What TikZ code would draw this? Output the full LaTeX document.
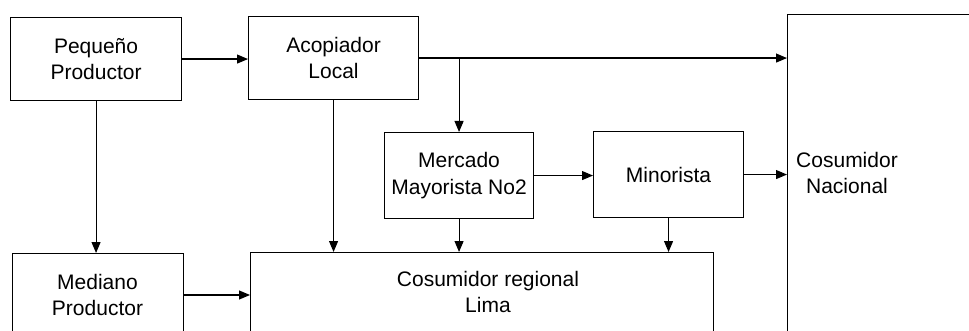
\documentclass[tikz,border=0pt]{standalone}
\usepackage{fontspec}
\setmainfont{Liberation Sans}
\usetikzlibrary{arrows.meta,calc}
\begin{document}
\begin{tikzpicture}[x=1pt,y=-1pt,
  boxnode/.style={draw=black,line width=1.1pt,rectangle,inner sep=0pt,anchor=north west},
  txt/.style={align=center,font=\fontsize{21}{26.5}\selectfont,inner sep=0pt},
  arr/.style={line width=1.1pt,-{Triangle[length=11pt,width=9pt]}}]
\useasboundingbox (0,0) rectangle (969,331);
\clip (0,0) rectangle (969,331);
\fill[white] (0,0) rectangle (969,331);
% boxes
\node[boxnode,minimum width=171pt,minimum height=83pt] (peq) at (10,17) {};
\node[boxnode,minimum width=170pt,minimum height=83pt] (aco) at (248,16) {};
\node[boxnode,minimum width=149pt,minimum height=86pt] (merc) at (384,132) {};
\node[boxnode,minimum width=150pt,minimum height=86pt] (mino) at (593,131) {};
\node[boxnode,minimum width=171pt,minimum height=160pt] (med) at (12,253) {};
\node[boxnode,minimum width=463pt,minimum height=160pt] (lima) at (250,252) {};
\node[boxnode,minimum width=260pt,minimum height=400pt] (nac) at (787,14) {};
% texts
\node[txt] (peqtxt) at (peq.center) {Pequeño\\Productor};
\node[txt] (acotxt) at (aco.center) {Acopiador\\Local};
\node[txt] (merctxt) at (merc.center) {Mercado\\Mayorista No2};
\node[txt] (minotxt) at (mino.center) {Minorista};
\node[txt] (medtxt) at (97.5,295) {Mediano\\Productor};
\node[txt] (limatxt) at (488,292) {Cosumidor regional\\Lima};
\node[txt] (nactxt) at (847,173) {Cosumidor\\Nacional};
% connectors
\draw[arr] (peq.east) -- (aco.west |- peq.east);
\draw[arr] (aco.east) -- (aco.east -| nac.west);
\draw[arr] (merc.north |- aco.east) -- (merc.north);
\draw[arr] (peq.south) -- (peq.south |- med.north);
\draw[arr] (aco.south) -- (aco.south |- lima.north);
\draw[arr] (merc.south) -- (merc.south |- lima.north);
\draw[arr] (mino.south) -- (mino.south |- lima.north);
\draw[arr] (merc.east) -- (mino.west |- merc.east);
\draw[arr] (mino.east) -- (mino.east -| nac.west);
\draw[arr] (med.east |- medtxt) -- (lima.west |- medtxt);
\end{tikzpicture}
\end{document}
